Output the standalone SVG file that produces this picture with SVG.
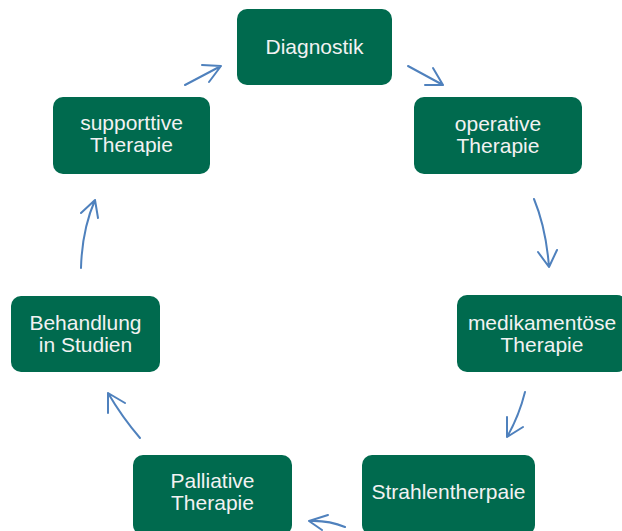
<svg xmlns="http://www.w3.org/2000/svg" width="622" height="531" viewBox="0 0 622 531">
<style>
.box{fill:#006a4e;}
.t{font-family:"Liberation Sans",Arial,sans-serif;font-size:21px;fill:#f2f2f2;text-anchor:middle;}
.c{fill:none;stroke:#4f81bd;stroke-width:2;stroke-linecap:round;stroke-linejoin:round;}
</style>
<rect width="622" height="531" fill="#ffffff"/>
<g id="n-diagnostik"><rect class="box" x="237" y="9" width="155" height="76" rx="10"/><text class="t" x="314.5" y="54">Diagnostik</text></g>
<g id="n-operative"><rect class="box" x="414" y="97" width="168" height="77" rx="10"/><text class="t" x="498" y="131">operative</text><text class="t" x="498" y="153">Therapie</text></g>
<g id="n-medikamentoese"><rect class="box" x="457" y="295" width="170" height="77" rx="10"/><text class="t" x="542" y="330">medikamentöse</text><text class="t" x="542" y="352">Therapie</text></g>
<g id="n-strahlen"><rect class="box" x="362" y="455" width="173" height="80" rx="10"/><text class="t" x="448.5" y="499">Strahlentherpaie</text></g>
<g id="n-palliative"><rect class="box" x="133" y="455" width="159" height="80" rx="10"/><text class="t" x="212.5" y="488">Palliative</text><text class="t" x="212.5" y="510">Therapie</text></g>
<g id="n-studien"><rect class="box" x="11" y="296" width="149" height="76" rx="10"/><text class="t" x="85.5" y="330">Behandlung</text><text class="t" x="85.5" y="352">in Studien</text></g>
<g id="n-supportive"><rect class="box" x="53" y="97" width="157" height="77" rx="10"/><text class="t" x="131.5" y="130">supporttive</text><text class="t" x="131.5" y="152">Therapie</text></g>
<g id="connectors">
<path class="c" d="M185 85 L221 66 M202 65 L221 66 L209 82"/>
<path class="c" d="M408 66 L443 85 M433 68 L443 85 L425 85"/>
<path class="c" d="M534 199 Q546 228 549 267 M538 252 L549 267 L557 250"/>
<path class="c" d="M525 392 Q519 416 507 437 M507 417 L507 437 L523 427"/>
<path class="c" d="M345 527 Q328 520 309 521 M328 515 L309 521 L322 530"/>
<path class="c" d="M140 438 Q122 417 108 393 M108 413 L108 393 L125 403"/>
<path class="c" d="M81 268 Q82 230 95 200 M81 213 L95 200 L98 218"/>
</g>
</svg>
